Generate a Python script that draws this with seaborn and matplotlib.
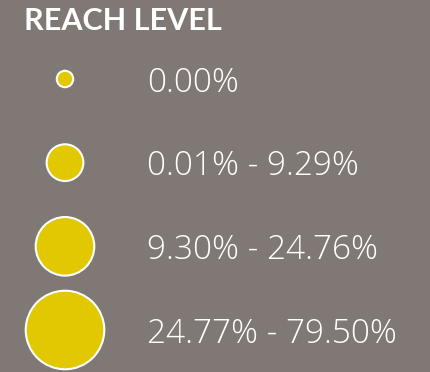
import matplotlib
matplotlib.use("Agg")
import matplotlib.pyplot as plt
import seaborn as sns
import pandas as pd

# Legend contents: reach bins and their labels
title = "REACH LEVEL"
bins = ["0.00%", "0.01% - 9.29%", "9.30% - 24.76%", "24.77% - 79.50%"]
bin_rank = [0, 1, 2, 3]

bg = "#807874"
fill = "#E2C800"

df = pd.DataFrame({"bin": bins, "rank": bin_rank, "x": [0] * len(bins)})

sns.set_theme(style="white")
plt.rcParams["font.family"] = ["Open Sans", "DejaVu Sans"]

fig = plt.figure(figsize=(4.31, 3.72), dpi=100, facecolor=bg)
ax = fig.add_axes([0, 0, 1, 1])
ax.set_facecolor(bg)

sns.scatterplot(
    data=df, x="x", y="rank", size="bin", sizes=[140, 700, 1780, 3200],
    size_order=bins, color=fill, edgecolor="white", linewidth=1.5,
    legend=False, ax=ax, zorder=3,
)

for r, lab in zip(bin_rank, bins):
    ax.text(82, r, lab, color="white", fontsize=24, fontweight=300,
            va="center_baseline", ha="left")

fig.text(24 / 431, 1 - 21 / 372, title, color="white", fontsize=22,
         fontweight="bold", va="center", ha="left", family=["Lato", "DejaVu Sans"])

ax.set_xlim(-65, 366)
ax.set_ylim(3.502, -0.944)
ax.axis("off")

fig.savefig("out.png", dpi=100, facecolor=bg)
